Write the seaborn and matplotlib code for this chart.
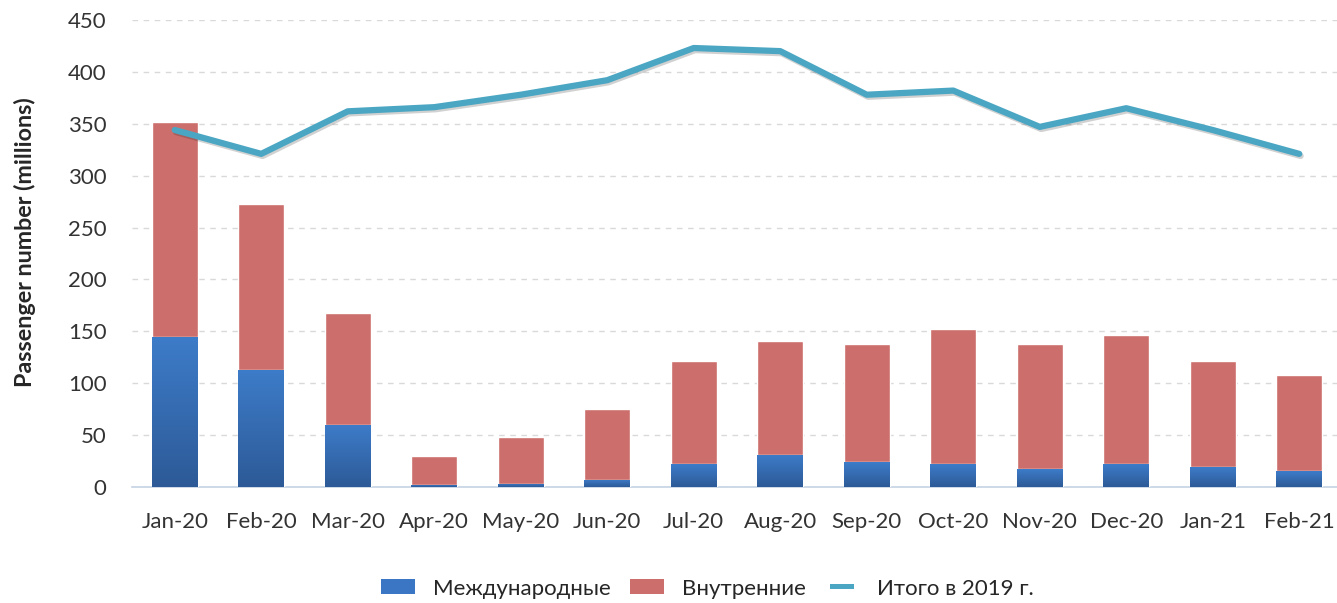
import numpy as np
import pandas as pd
import matplotlib
matplotlib.use("Agg")
import matplotlib.pyplot as plt
import matplotlib.patheffects as pe
from matplotlib.patches import Patch, Rectangle
from matplotlib.legend_handler import HandlerPatch
import seaborn as sns

months = ["Jan-20", "Feb-20", "Mar-20", "Apr-20", "May-20", "Jun-20", "Jul-20",
          "Aug-20", "Sep-20", "Oct-20", "Nov-20", "Dec-20", "Jan-21", "Feb-21"]
international = [145, 113, 60, 2, 3, 7, 22, 31, 24, 22, 17, 22, 19, 15]
domestic_total = [352, 273, 168, 30, 48, 75, 121, 141, 138, 152, 138, 146, 121, 108]
total_2019 = [344, 321, 362, 366, 378, 392, 423, 420, 378, 382, 347, 365, 344, 321]
yticks = [0, 50, 100, 150, 200, 250, 300, 350, 400, 450]

lbl_int = "Международные"
lbl_dom = "Внутренние"
lbl_2019 = "Итого в 2019 г."

df = pd.DataFrame({"month": months, "intl": international,
                   "total": domestic_total, "y2019": total_2019,
                   "pos": np.arange(len(months))})

sns.set_theme(style="white")
plt.rcParams["font.family"] = ["Lato", "DejaVu Sans"]

fig = plt.figure(figsize=(13.37, 6.03), dpi=100)
ax = fig.add_axes([131.5 / 1337, 1 - 487 / 603, 1211 / 1337, 467 / 603])

red = "#cc6e6b"
blue = "#3a76c4"
cyan = "#4aa6c2"

sns.barplot(data=df, x="month", y="total", color=red, saturation=1,
            width=0.53, ax=ax, zorder=2)
n_red = len(ax.patches)
sns.barplot(data=df, x="month", y="intl", color=blue, saturation=1,
            width=0.53, ax=ax, zorder=3)

# gradient on blue bars
grad = np.linspace(0, 1, 256).reshape(-1, 1)
cmap = matplotlib.colors.LinearSegmentedColormap.from_list("g", ["#2d5a97", "#3d7cc9"])
for p in ax.patches[n_red:]:
    x0, y0 = p.get_x(), p.get_y()
    w, h = p.get_width(), p.get_height()
    if h <= 0:
        continue
    im = ax.imshow(grad, extent=[x0, x0 + w, y0, y0 + h], origin="lower",
                   cmap=cmap, aspect="auto", zorder=3.5)
    im.set_clip_path(p)

sns.lineplot(data=df, x="pos", y="y2019", color=cyan, linewidth=4.5, ax=ax,
             zorder=5,
             path_effects=[pe.SimpleLineShadow(offset=(1, -1.5), alpha=0.2),
                           pe.Normal()])

ax.set_xlim(-0.5, len(months) - 0.5)
ax.set_ylim(0, 450)
ax.set_yticks(yticks)
ax.set_xticks(range(len(months)))
ax.set_xticklabels(months)
ax.tick_params(axis="both", labelsize=16, colors="#333333", length=0)
ax.tick_params(axis="x", pad=18)
ax.tick_params(axis="y", pad=18)
ax.yaxis.grid(True, linestyle=(0, (4, 4)), color="#d9d9d9", linewidth=1)
ax.set_axisbelow(True)
for s in ["top", "right", "left"]:
    ax.spines[s].set_visible(False)
ax.spines["bottom"].set_color("#c5d3e3")
ax.spines["bottom"].set_linewidth(1.2)
ax.set_xlabel("")
ax.set_ylabel("Passenger number (millions)", fontsize=16.8, fontweight="bold",
              color="#262626", va="center")
ax.yaxis.set_label_coords(-0.088, 0.525)


def make_rect(legend, orig_handle, xdescent, ydescent, width, height, fontsize):
    return Rectangle((-xdescent, -ydescent), width, height)


def make_line(legend, orig_handle, xdescent, ydescent, width, height, fontsize):
    lw = width * 0.7
    lh = height * 0.3
    return Rectangle((-xdescent + (width - lw) / 2, -ydescent + (height - lh) / 2),
                     lw, lh)


handles = [Patch(facecolor=blue, edgecolor="none"),
           Patch(facecolor=red, edgecolor="none"),
           Patch(facecolor=cyan, edgecolor="none")]
fig.legend(handles, [lbl_int, lbl_dom, lbl_2019], loc="center",
           bbox_to_anchor=(0.529, 0.024), ncol=3, frameon=False, fontsize=16,
           handlelength=1.55, handleheight=0.65, handletextpad=0.8,
           columnspacing=0.85,
           handler_map={handles[0]: HandlerPatch(patch_func=make_rect),
                        handles[1]: HandlerPatch(patch_func=make_rect),
                        handles[2]: HandlerPatch(patch_func=make_line)})

fig.savefig("out.png", dpi=100)
